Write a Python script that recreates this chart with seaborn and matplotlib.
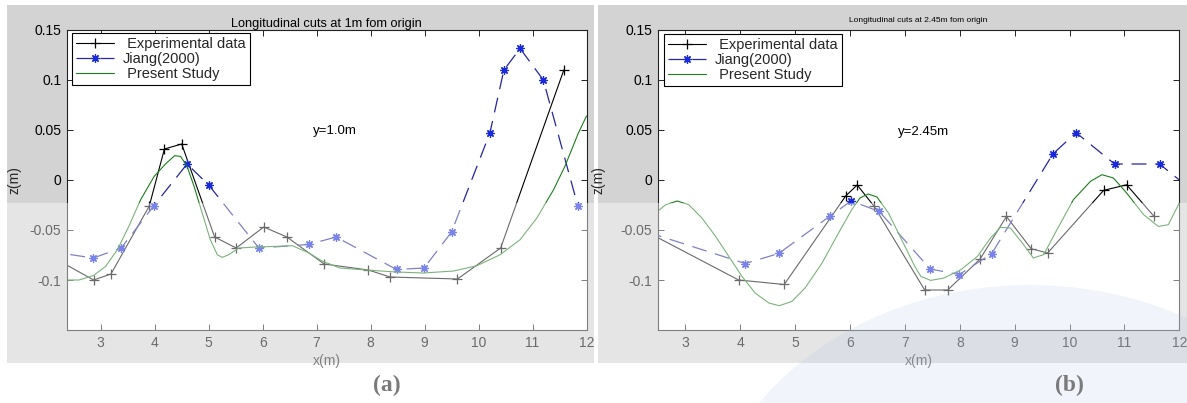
import numpy as np
import pandas as pd
import matplotlib
matplotlib.use("Agg")
import matplotlib.pyplot as plt
from matplotlib.patches import Rectangle, Ellipse
import seaborn as sns

# ---------------- data ----------------
# Panel (a): longitudinal cut at y = 1.0 m
exp_a_x = [2.0, 2.87, 3.19, 3.90, 4.18, 4.50, 5.11, 5.51, 6.02, 6.45, 7.14, 7.96, 8.36, 9.61, 10.41, 11.58]
exp_a_z = [-0.074, -0.100, -0.094, -0.026, 0.031, 0.036, -0.057, -0.068, -0.047, -0.057, -0.084, -0.090, -0.097, -0.099, -0.068, 0.110]

jiang_a_x = [2.0, 2.86, 3.38, 3.98, 4.60, 5.00, 5.93, 6.85, 7.36, 8.48, 8.99, 9.50, 10.21, 10.47, 10.77, 11.20, 11.84]
jiang_a_z = [-0.071, -0.078, -0.068, -0.026, 0.016, -0.005, -0.068, -0.0645, -0.057, -0.0895, -0.088, -0.052, 0.047, 0.110, 0.1315, 0.100, -0.026]

pres_a_x = [2.37, 2.6, 2.87, 3.09, 3.31, 3.52, 3.74, 3.99, 4.20, 4.37, 4.48, 4.60, 4.73, 4.88, 5.03, 5.16,
            5.25, 5.37, 5.56, 5.87, 6.24, 6.55, 6.86, 7.10, 7.43, 7.99, 8.48, 8.98, 9.54, 9.97, 10.40, 10.77,
            11.08, 11.39, 11.60, 11.85, 12.0]
pres_a_z = [-0.100, -0.100, -0.0954, -0.0864, -0.0697, -0.0464, -0.0197, 0.0036, 0.016, 0.0243, 0.0236, 0.0136,
            -0.0064, -0.033, -0.0597, -0.0747, -0.0774, -0.0747, -0.068, -0.067, -0.0664, -0.0657, -0.073, -0.081,
            -0.088, -0.0903, -0.092, -0.093, -0.091, -0.0857, -0.0747, -0.0597, -0.038, -0.0097, 0.0137, 0.047, 0.064]

# Panel (b): longitudinal cut at y = 2.45 m
exp_b_x = [2.3, 3.97, 4.80, 5.92, 6.13, 6.44, 7.36, 7.78, 8.37, 8.85, 9.30, 9.60, 10.62, 11.04, 11.54]
exp_b_z = [-0.052, -0.100, -0.1045, -0.016, -0.005, -0.0264, -0.110, -0.110, -0.079, -0.0365, -0.0687, -0.073, -0.0104, -0.0048, -0.0364]

jiang_b_x = [2.3, 4.09, 4.70, 5.63, 6.02, 6.53, 7.46, 7.99, 8.58, 9.70, 10.12, 10.82, 11.64, 12.1]
jiang_b_z = [-0.052, -0.0835, -0.0735, -0.0362, -0.021, -0.0314, -0.089, -0.0945, -0.0737, 0.0263, 0.0473, 0.016, 0.016, -0.0044]

pres_b_x = [2.5, 2.64, 2.85, 3.06, 3.30, 3.55, 3.79, 4.03, 4.27, 4.52, 4.71, 4.94, 5.18, 5.49, 5.79, 6.03, 6.18,
            6.33, 6.49, 6.70, 6.94, 7.18, 7.29, 7.47, 7.71, 8.02, 8.32, 8.56, 8.74, 8.92, 9.14, 9.34, 9.53, 9.77,
            10.07, 10.38, 10.59, 10.80, 11.04, 11.35, 11.62, 11.80, 12.0]
pres_b_z = [-0.031, -0.0247, -0.021, -0.0247, -0.038, -0.0564, -0.0764, -0.0964, -0.113, -0.123, -0.1257, -0.1214,
            -0.108, -0.083, -0.053, -0.0297, -0.018, -0.014, -0.017, -0.033, -0.0597, -0.0864, -0.0964, -0.1004,
            -0.098, -0.0897, -0.0764, -0.058, -0.0474, -0.048, -0.063, -0.078, -0.0746, -0.0497, -0.0197, -0.0014,
            0.0053, 0.002, -0.013, -0.0347, -0.0464, -0.0447, -0.023]

legend_labels = [" Experimental data", "Jiang(2000)", " Present Study"]
titles = ["Longitudinal cuts at 1m fom origin", "Longitudinal cuts at 2.45m fom origin"]
annotations = ["y=1.0m", "y=2.45m"]
panel_tags = ["(a)", "(b)"]
x_ticks = [3, 4, 5, 6, 7, 8, 9, 10, 11, 12]
y_ticks = [-0.1, -0.05, 0, 0.05, 0.1, 0.15]
y_tick_labels = ["-0.1", "-0.05", "0", "0.05", "0.1", "0.15"]

# ---------------- style ----------------
sns.set_theme(style="white")
plt.rcParams["font.family"] = ["Liberation Sans", "DejaVu Sans"]

W, H = 1187, 403
fig = plt.figure(figsize=(W / 100, H / 100), dpi=100, facecolor="white")

def fx(px):
    return px / W

def fy(py):
    return 1 - py / H

# grey figure panels (as in the MATLAB export)
fig.add_artist(Rectangle((fx(7), fy(363)), fx(594 - 7), (363 - 5) / H, transform=fig.transFigure,
                         facecolor="#d3d3d3", edgecolor="none", zorder=-10))
fig.add_artist(Rectangle((fx(598), fy(363)), fx(1187 - 598), (363 - 5) / H, transform=fig.transFigure,
                         facecolor="#d3d3d3", edgecolor="none", zorder=-10))

BLK = "#000000"
BLUE_L = "#26269e"
BLUE_M = "#1a2ad8"
GREEN = "#1e7d1e"

panels = [
    dict(left=66.7, right=586.5, xlim=(2.37, 12), exp=(exp_a_x, exp_a_z), jiang=(jiang_a_x, jiang_a_z),
         pres=(pres_a_x, pres_a_z), ann_x=6.93, ann_y=0.049, title_fs=9.2, title_y=24, ylab_px=22,
         legend_px=(72, 33), tag_x=387),
    dict(left=658.0, right=1179.3, xlim=(2.5, 12), exp=(exp_b_x, exp_b_z), jiang=(jiang_b_x, jiang_b_z),
         pres=(pres_b_x, pres_b_z), ann_x=6.87, ann_y=0.048, title_fs=6.0, title_y=20, ylab_px=605,
         legend_px=(664, 34), tag_x=1069),
]

top_px, bot_px = 30.0, 330.0
for i, p in enumerate(panels):
    ax = fig.add_axes([fx(p["left"]), fy(bot_px), fx(p["right"] - p["left"]), (bot_px - top_px) / H])
    ax.set_facecolor("white")

    dfe = pd.DataFrame({"x": p["exp"][0], "z": p["exp"][1]})
    dfj = pd.DataFrame({"x": p["jiang"][0], "z": p["jiang"][1]})
    dfp = pd.DataFrame({"x": p["pres"][0], "z": p["pres"][1]})

    sns.lineplot(data=dfe, x="x", y="z", ax=ax, sort=False, estimator=None, color=BLK, linewidth=0.8,
                 marker="+", markersize=7, markeredgewidth=0.9, markeredgecolor=BLK, label=legend_labels[0])
    sns.lineplot(data=dfj, x="x", y="z", ax=ax, sort=False, estimator=None, color=BLUE_L, linewidth=0.9,
                 linestyle=(0, (12, 7)), marker=(8, 2, 0), markersize=6, markeredgewidth=0.9,
                 markeredgecolor=BLUE_M, markerfacecolor=BLUE_M, label=legend_labels[1])
    sns.lineplot(data=dfp, x="x", y="z", ax=ax, sort=False, estimator=None, color=GREEN, linewidth=0.8,
                 label=legend_labels[2])

    ax.set_xlim(*p["xlim"])
    ax.set_ylim(-0.15, 0.15)
    ax.set_xticks(x_ticks)
    ax.set_xticklabels([str(t) for t in x_ticks])
    ax.set_yticks(y_ticks)
    ax.set_yticklabels(y_tick_labels)
    ax.tick_params(axis="both", which="both", direction="in", length=4, width=0.6, labelsize=10,
                   top=True, right=True, bottom=True, left=True, pad=4, colors="black")
    for s in ax.spines.values():
        s.set_visible(True)
        s.set_color("#222222")
        s.set_linewidth(0.8)

    ax.set_xlabel("x(m)", fontsize=10, labelpad=3)
    ax.set_ylabel("z(m)", fontsize=10)
    ax.yaxis.set_label_coords((p["ylab_px"] - p["left"]) / (p["right"] - p["left"]), 0.5)

    ax.text(p["ann_x"], p["ann_y"], annotations[i], fontsize=9.5, ha="left", va="center", color="black")

    fig.text(fx((p["left"] + p["right"]) / 2), fy(p["title_y"]), titles[i], fontsize=p["title_fs"],
             ha="center", va="center", color="black")

    handles, labels = ax.get_legend_handles_labels()
    lx = (p["legend_px"][0] - p["left"]) / (p["right"] - p["left"])
    ly = (bot_px - p["legend_px"][1]) / (bot_px - top_px)
    leg = ax.legend(handles, labels, loc="upper left", bbox_to_anchor=(lx, ly), borderaxespad=0,
                    fontsize=10.5, frameon=True, fancybox=False, framealpha=1, edgecolor="black",
                    handlelength=2.6, handletextpad=0.6, labelspacing=0.05, borderpad=0.3)
    leg.get_frame().set_linewidth(0.8)

    fig.text(fx(p["tag_x"]), fy(385), panel_tags[i], fontsize=17, fontweight="bold",
             family="Liberation Serif", ha="center", va="center", color="#7a7a7a", zorder=300)

# scan fade on the lower half of the picture
fig.add_artist(Rectangle((0, 0), 1, fy(203), transform=fig.transFigure, facecolor="white",
                         edgecolor="none", alpha=0.42, zorder=100))
# faint watermark disc at lower right
fig.add_artist(Ellipse((fx(1030), fy(560)), fx(660), 550 / H, transform=fig.transFigure,
                       facecolor="#a9bbe0", edgecolor="none", alpha=0.16, zorder=110))

fig.savefig("out.png", dpi=100, facecolor="white")
